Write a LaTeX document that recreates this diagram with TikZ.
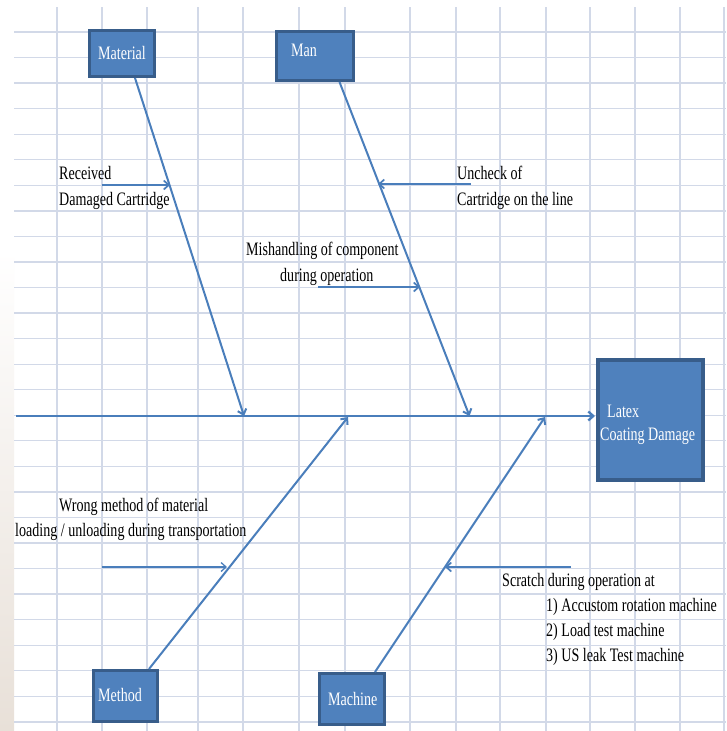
\documentclass[tikz,border=0pt]{standalone}
\usepackage{fontspec}
\setmainfont{Liberation Serif}[FakeStretch=0.74]
\usetikzlibrary{arrows.meta}
\definecolor{boxfill}{HTML}{4F81BD}
\definecolor{boxedge}{HTML}{385D8A}
\definecolor{bonec}{HTML}{4A7EBB}
\definecolor{gridc}{RGB}{210,217,232}
\definecolor{stripmid}{RGB}{205,203,200}
\definecolor{stripbot}{RGB}{232,224,216}
\begin{document}
\begin{tikzpicture}[x=1pt,y=-1pt, font=\fontsize{19}{25}\selectfont,
  cbox/.style={draw=boxedge, fill=boxfill, line width=3pt, inner sep=0pt},
  lbl/.style={anchor=base west, inner sep=0pt},
  boxlbl/.style={lbl, text=white},
  bonel/.style={draw=bonec, line width=2pt, -{Straight Barb[length=5pt,width=9pt]}},
  subl/.style={draw=bonec, line width=1.7pt, -{Straight Barb[length=5pt,width=9pt]}},
  gridl/.style={draw=gridc, line width=1.3pt}]
\useasboundingbox (0,0) rectangle (726,731);
\fill[white] (0,0) rectangle (726,731);
\shade[top color=white, middle color=stripmid, bottom color=stripbot] (0,250) rectangle (14,731);
% grid
\foreach \k in {0,...,27} \draw[gridl] (14,{32+25.55*\k}) -- (726,{32+25.55*\k});
\foreach \x in {57,102,147,198,243,299,345,410,456,500,546,590,635,680,724} \draw[gridl] (\x,7) -- (\x,731);
% boxes
\node[cbox, minimum width=65pt, minimum height=46pt] (mat) at (122,53.5) {};
\node[cbox, minimum width=77pt, minimum height=49pt] (man) at (315,56) {};
\node[cbox, line width=4pt, minimum width=105pt, minimum height=120pt] (eff) at (650.5,420) {};
\node[cbox, minimum width=64pt, minimum height=51pt] (met) at (125.5,696) {};
\node[cbox, minimum width=65pt, minimum height=51pt] (mac) at (352,699) {};
% box labels
\node[boxlbl] (matl) at (98,59.5) {Material};
\node[boxlbl] (manl) at (291,56) {Man};
\node[boxlbl] (effl1) at (607,417) {Latex};
\node[boxlbl] (effl2) at (600,440) {Coating Damage};
\node[boxlbl] (metl) at (98,701.5) {Method};
\node[boxlbl] (macl) at (328,705) {Machine};
% bone coordinates
\coordinate (spT) at (16,416);
\coordinate (spH) at (595,416);
\coordinate (matT) at (135,78);
\coordinate (matH) at (244,416);
\coordinate (manT) at (339.5,82);
\coordinate (manH) at (469.5,416);
\coordinate (metT) at (149,669);
\coordinate (metH) at (348,417);
\coordinate (macT) at (375,672);
\coordinate (macH) at (545,417);
% bones
\draw[bonel, line width=2.3pt] (spT) -- (spH);
\draw[bonel] (matT) -- (matH);
\draw[bonel] (manT) -- (manH);
\draw[bonel] (metT) -- (metH);
\draw[bonel] (macT) -- (macH);
% sub-cause arrows
\coordinate (a1T) at (102,185);  \coordinate (a1H) at (170,185);
\coordinate (a2T) at (471,184);  \coordinate (a2H) at (378,184);
\coordinate (a3T) at (318,287);  \coordinate (a3H) at (420,287);
\coordinate (a4T) at (102,567);  \coordinate (a4H) at (227,567);
\coordinate (a5T) at (571,567);  \coordinate (a5H) at (445,567);
\draw[subl] (a1T) -- (a1H);
\draw[subl] (a2T) -- (a2H);
\draw[subl] (a3T) -- (a3H);
\draw[subl, line width=1.3pt] (a4T) -- (a4H);
\draw[subl] (a5T) -- (a5H);
% cause texts
\node[lbl] (t1a) at (59,179) {Received};
\node[lbl] (t1b) at (59,205) {Damaged Cartridge};
\node[lbl] (t2a) at (457,179) {Uncheck of};
\node[lbl] (t2b) at (457,205) {Cartridge on the line};
\node[lbl] (t3a) at (246,255) {Mishandling of component};
\node[lbl] (t3b) at (280,281) {during operation};
\node[lbl] (t4a) at (59,511) {Wrong method of material};
\node[lbl] (t4b) at (15,536) {loading / unloading during transportation};
\node[lbl] (t5a) at (502,586.5) {Scratch during operation at};
\node[lbl] (t5b) at (546,611.5) {1) Accustom rotation machine};
\node[lbl] (t5c) at (546,636.5) {2) Load test machine};
\node[lbl] (t5d) at (546,661.5) {3) US leak Test machine};
\end{tikzpicture}
\end{document}
